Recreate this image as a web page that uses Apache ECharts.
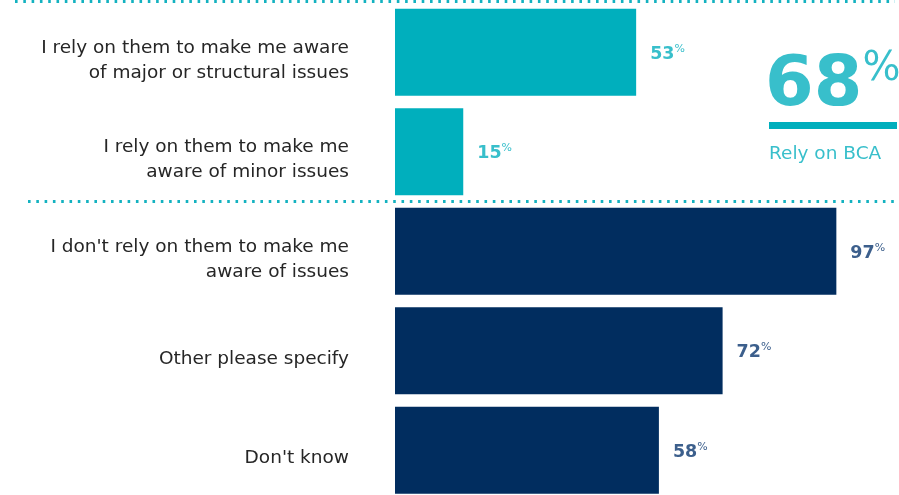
<!DOCTYPE html>
<html>
<head>
<meta charset="utf-8">
<script src="https://cdn.jsdelivr.net/npm/echarts@6/dist/echarts.min.js"></script>
<style>
  html, body { margin: 0; padding: 0; background: #ffffff; }
  #chart { width: 899px; height: 495px; }
</style>
</head>
<body>
<div id="chart"></div>
<script>
// Survey answers, top to bottom
const categories = [
  'I rely on them to make me aware\nof major or structural issues',
  'I rely on them to make me\naware of minor issues',
  "I don't rely on them to make me\naware of issues",
  'Other please specify',
  "Don't know"
];
const values = [53, 15, 97, 72, 58];
// Answers counted as relying on the BCA
const relyGroup = [true, true, false, false, false];
const summaryLabel = 'Rely on BCA';

const TEAL = '#00afbd';
const TEAL_TEXT = '#38bfcb';
const NAVY = '#012d5f';
const NAVY_TEXT = '#3c5f8c';
const DOT = '#14b2c0';

const relyTotal = values.reduce((s, v, i) => s + (relyGroup[i] ? v : 0), 0);

const chart = echarts.init(document.getElementById('chart'), null, { renderer: 'canvas' });

const font = '"DejaVu Sans", Inter, sans-serif';

// Bars live in grid 0; the category names sit on a second, slightly lower grid
const barGrid = { left: 395, width: 455, top: 2.5, height: 497.5, outerBoundsMode: 'none' };
const labelGrid = Object.assign({}, barGrid, { top: 10.5 });

chart.setOption({
  animation: false,
  grid: [barGrid, labelGrid],
  xAxis: [
    { type: 'value', min: 0, max: 100, show: false, gridIndex: 0 },
    { type: 'value', min: 0, max: 100, show: false, gridIndex: 1 }
  ],
  yAxis: [
    {
      type: 'category', gridIndex: 0, inverse: true, data: categories,
      axisLine: { show: false }, axisTick: { show: false }, splitLine: { show: false },
      axisLabel: { show: false }
    },
    {
      type: 'category', gridIndex: 1, inverse: true, data: categories,
      axisLine: { show: false }, axisTick: { show: false }, splitLine: { show: false },
      axisLabel: {
        margin: 46,
        align: 'right',
        color: '#262626',
        fontFamily: font,
        fontSize: 18.5,
        lineHeight: 25
      }
    }
  ],
  series: [{
    type: 'bar',
    xAxisIndex: 0,
    yAxisIndex: 0,
    barWidth: 87,
    data: values.map((v, i) => ({
      value: v,
      itemStyle: { color: relyGroup[i] ? TEAL : NAVY },
      label: {
        rich: {
          v: { color: relyGroup[i] ? TEAL_TEXT : NAVY_TEXT, fontSize: 17.5, fontWeight: 'bold', fontFamily: font, lineHeight: 22 },
          p: { color: relyGroup[i] ? TEAL_TEXT : NAVY_TEXT, fontSize: 11, fontFamily: font, verticalAlign: 'top', lineHeight: 22, padding: [0, 0, 9, 0] }
        }
      }
    })),
    label: {
      show: true,
      position: 'right',
      distance: 14,
      offset: [0, 2],
      formatter: p => '{v|' + p.value + '}{p|%}'
    }
  }],
  graphic: [
    // dotted separators above and between the two groups
    {
      type: 'line', silent: true,
      shape: { x1: 15, y1: 1.5, x2: 895, y2: 1.5 },
      style: { stroke: DOT, lineWidth: 3, lineDash: [2.6, 5.7] }
    },
    {
      type: 'line', silent: true,
      shape: { x1: 28, y1: 201.5, x2: 895, y2: 201.5 },
      style: { stroke: DOT, lineWidth: 3, lineDash: [2.6, 5.7] }
    },
    // summary figure
    {
      type: 'text', silent: true,
      left: 765, top: 44,
      style: {
        text: '{n|' + relyTotal + '}{p|%}',
        rich: {
          n: { fontSize: 70, fontWeight: 'bold', fill: TEAL_TEXT, fontFamily: font, lineHeight: 86 },
          p: { fontSize: 40, fill: TEAL_TEXT, fontFamily: font, verticalAlign: 'top', lineHeight: 86, padding: [6, 0, 28, 0] }
        }
      }
    },
    {
      type: 'rect', silent: true,
      shape: { x: 769, y: 122, width: 128, height: 7 },
      style: { fill: TEAL }
    },
    {
      type: 'text', silent: true,
      left: 769, top: 145,
      style: { text: summaryLabel, fontSize: 18.5, fill: TEAL_TEXT, fontFamily: font }
    }
  ]
});
</script>
</body>
</html>
